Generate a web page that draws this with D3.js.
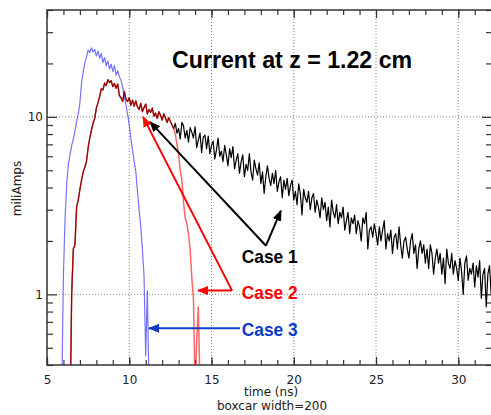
<!DOCTYPE html>
<html>
<head>
<meta charset="utf-8">
<title>Current at z = 1.22 cm</title>
<style>
    body {
        margin: 0;
        background: #fff;
        overflow: hidden;
    }
    svg {
        display: block;
    }
    .tick text, .label {
        font-family: "DejaVu Sans", sans-serif;
        font-size: 12px;
        fill: #222;
    }
    .note {
        font-family: "Liberation Sans", Arial, sans-serif;
        font-weight: bold;
    }
</style>
</head>
<body>
<script src="https://cdn.jsdelivr.net/npm/d3@7/dist/d3.min.js"></script>
<script>
    // all traces sampled every 0.1 ns
    var sampleStep = 0.1;

    // Case 1 (black), starts at 6.4 ns
    var case1Start = 6.4;
    var case1Values = [
        0.2, 1.0, 1.8, 1.9, 3.1, 3.4, 3.9, 4.4, 4.9, 5.2,            // 6.4 - 7.3
        5.6, 6.7, 7.6, 8.4, 9.2, 9.8, 11.2, 12.0, 13.0, 14.4,        // 7.4 - 8.3
        14.2, 15.5, 15.0, 16.2, 15.6, 16.0, 14.8, 15.4, 14.5, 15.3,  // 8.4 - 9.3
        13.2, 12.8, 12.2, 13.9, 12.6, 12.2, 12.8, 11.6, 12.4, 11.5,  // 9.4 - 10.3
        12.3, 11.4, 11.0, 11.9, 10.7, 11.3, 11.8, 10.4, 11.0, 10.6,  // 10.4 - 11.3
        11.2, 10.1, 10.5, 9.8, 10.7, 10.2, 9.6, 10.4, 9.9, 9.3,      // 11.4 - 12.3
        9.9, 9.4, 9.0, 8.6,                                          // 12.4 - 12.7
        9.2, 8.1, 8.6, 7.5, 9.3, 8.9, 7.6, 8.4, 7.2, 8.7,            // 12.8 - 13.7
        8.2, 7.6, 8.8, 6.7, 7.4, 8.1, 6.3, 7.7, 7.9, 6.6,            // 13.8 - 14.7
        7.8, 6.2, 6.9, 7.3, 5.8, 6.5, 7.6, 6.0, 6.4, 5.6,            // 14.8 - 15.7
        6.9, 6.1, 5.3, 6.6, 5.9, 6.8, 5.1, 5.7, 6.2, 4.8,            // 15.8 - 16.7
        5.6, 6.1, 4.6, 5.4, 5.0, 6.2, 4.9, 4.4, 5.7, 5.1,            // 16.8 - 17.7
        4.7, 5.5, 4.2, 4.9, 3.7, 4.6, 5.3, 4.5, 4.1, 4.8,            // 17.8 - 18.7
        4.2, 5.0, 3.8, 4.3, 4.6, 3.5, 4.4, 3.9, 4.5, 3.6,            // 18.8 - 19.7
        4.1, 4.4, 3.4, 3.8, 3.2, 4.2, 3.7, 2.8, 3.9, 3.5,            // 19.8 - 20.7
        3.3, 3.8, 3.0, 3.5, 3.7, 2.9, 3.4, 3.1, 2.7, 3.5,            // 20.8 - 21.7
        3.0, 3.3, 2.6, 3.1, 2.4, 3.4, 2.9, 2.7, 3.2, 2.5,            // 21.8 - 22.7
        2.9, 2.7, 3.1, 2.3, 2.6, 2.9, 2.2, 2.7, 2.5, 2.8,            // 22.8 - 23.7
        2.2, 2.6, 2.4, 2.0, 2.7, 2.5, 2.9, 1.8, 2.3, 2.4,            // 23.8 - 24.7
        2.1, 2.5, 2.2, 1.9, 2.4, 2.0, 2.3, 2.6, 1.8, 2.2,            // 24.8 - 25.7
        2.0, 2.3, 1.7, 2.1, 2.2, 1.8, 2.4, 1.9, 1.6, 2.0,            // 25.8 - 26.7
        2.1, 1.8, 1.6, 2.0, 2.2, 1.7, 1.9, 1.4, 1.8, 2.0,            // 26.8 - 27.7
        1.7, 1.9, 1.5, 1.8, 1.4, 1.9, 1.7, 1.3, 1.6, 1.8,            // 27.8 - 28.7
        1.5, 1.7, 1.3, 1.6, 1.15, 1.8, 1.5, 1.4, 1.7, 1.3,           // 28.8 - 29.7
        1.55, 1.4, 1.2, 1.6, 1.35, 1.0, 1.5, 1.65, 1.2, 1.4,         // 29.8 - 30.7
        1.3, 1.5, 1.1, 1.45, 1.25, 1.55, 0.95, 1.3, 1.4, 0.85,       // 30.8 - 31.7
        1.3, 1.45, 1.0, 1.2, 1.35, 1.1, 1.25                         // 31.8 - 32.4
    ];

    // Case 2 (red) follows case 1 up to 12.7 ns, then drops
    var case2Start = 6.4;
    var case2Tail = [8.0, 7.0, 6.2, 5.0, 4.4, 3.3, 2.7, 2.5, 2.2, 1.8, 1.25, 0.95, 0.3, 0.55, 0.85, 0.3];
    var case2Values = case1Values.slice(0, 64).concat(case2Tail);

    // Case 3 (blue), starts at 5.9 ns
    var case3Start = 5.9;
    var case3Values = [
        0.3, 1.3, 2.7, 4.2, 5.4, 6.1, 6.9, 7.5, 8.3, 9.4,            // 5.9 - 6.8
        10.4, 12.0, 15.5, 18.0, 20.0, 21.8, 23.8, 23.0, 24.5, 23.2,  // 6.9 - 7.8
        24.0, 22.0, 23.5, 21.4, 22.8, 20.2, 21.6, 19.4, 20.6, 18.6,  // 7.9 - 8.8
        19.8, 18.0, 19.5, 17.2, 18.2, 16.8, 16.0, 14.7, 13.0, 11.8,  // 8.9 - 9.8
        10.3, 9.0, 7.5, 6.5, 5.6, 4.9, 3.8, 3.0, 2.4, 1.8,           // 9.9 - 10.8
        1.25, 0.45, 1.05, 0.3                                        // 10.9 - 11.2
    ];

    var xMajorTicks = [5, 10, 15, 20, 25, 30];
    var xGridTicks = [10, 15, 20, 25, 30];
    var yMajorTicks = [1, 10];
    var yMinorTicks = [0.4, 0.5, 0.6, 0.7, 0.8, 0.9, 2, 3, 4, 5, 6, 7, 8, 9, 20, 30, 40];

    var title = "Current at z = 1.22 cm";
    var yLabel = "miliAmps";
    var xLabel = "time (ns)";
    var subLabel = "boxcar width=200";

    function toPoints(start, values) {
        return values.map(function(v, i) {
            return { t: +(start + i * sampleStep).toFixed(2), v: v };
        });
    }

    var width = 491, height = 415;
    var plotLeft = 47, plotRight = 492, plotTop = 10, plotBottom = 365;

    var svg = d3.select("body").append("svg")
        .attr("width", width)
        .attr("height", height);

    var x = d3.scaleLinear().domain([5, 32.05]).range([plotLeft, plotRight]);
    var y = d3.scaleLog().domain([0.4, 40]).range([plotBottom, plotTop]);

    // dotted grid
    svg.append("g").selectAll("line")
        .data(xGridTicks).enter().append("line")
        .attr("x1", d => x(d)).attr("x2", d => x(d))
        .attr("y1", plotTop).attr("y2", plotBottom)
        .attr("stroke", "#888").attr("stroke-width", 1)
        .attr("stroke-dasharray", "1,2");
    svg.append("g").selectAll("line")
        .data(yMajorTicks).enter().append("line")
        .attr("x1", plotLeft).attr("x2", plotRight)
        .attr("y1", d => y(d)).attr("y2", d => y(d))
        .attr("stroke", "#888").attr("stroke-width", 1)
        .attr("stroke-dasharray", "1,2");

    // ticks (inward) on all four sides
    var xMinor = d3.range(5, 33, 1);
    function addAxis(axis, tx, ty, showLabels) {
        var g = svg.append("g").attr("transform", "translate(" + tx + "," + ty + ")").call(axis);
        g.select(".domain").remove();
        g.selectAll(".tick line").attr("stroke", "#333").attr("stroke-width", 1.2);
        if (!showLabels) g.selectAll(".tick text").remove();
        return g;
    }
    addAxis(d3.axisBottom(x).tickValues(xMinor).tickSize(-5).tickFormat(""), 0, plotBottom, false);
    addAxis(d3.axisBottom(x).tickValues(xMajorTicks).tickSize(-8).tickPadding(10).tickFormat(d3.format("d")), 0, plotBottom, true);
    addAxis(d3.axisTop(x).tickValues(xMinor).tickSize(-5).tickFormat(""), 0, plotTop, false);
    addAxis(d3.axisTop(x).tickValues(xMajorTicks).tickSize(-8).tickFormat(""), 0, plotTop, false);
    addAxis(d3.axisLeft(y).tickValues(yMinorTicks).tickSize(-6).tickFormat(""), plotLeft, 0, false);
    addAxis(d3.axisLeft(y).tickValues(yMajorTicks).tickSize(-10).tickPadding(4).tickFormat(d3.format("d")), plotLeft, 0, true);
    addAxis(d3.axisRight(y).tickValues(yMinorTicks).tickSize(-6).tickFormat(""), plotRight, 0, false);
    addAxis(d3.axisRight(y).tickValues(yMajorTicks).tickSize(-10).tickFormat(""), plotRight, 0, false);

    // frame
    svg.append("rect")
        .attr("x", plotLeft).attr("y", plotTop)
        .attr("width", plotRight - plotLeft).attr("height", plotBottom - plotTop)
        .attr("fill", "none").attr("stroke", "#333").attr("stroke-width", 1.5);

    // traces
    svg.append("clipPath").attr("id", "plot")
        .append("rect")
        .attr("x", plotLeft).attr("y", plotTop)
        .attr("width", plotRight - plotLeft).attr("height", plotBottom - plotTop);

    var line = d3.line().x(d => x(d.t)).y(d => y(d.v));
    var traces = svg.append("g").attr("clip-path", "url(#plot)");

    traces.append("path")
        .attr("d", line(toPoints(case1Start, case1Values)))
        .attr("fill", "none").attr("stroke", "#000").attr("stroke-width", 1.2)
        .attr("stroke-linejoin", "round");
    traces.append("path")
        .attr("d", line(toPoints(case2Start, case2Values)))
        .attr("fill", "none").attr("stroke", "#ff0000").attr("stroke-opacity", 0.6)
        .attr("stroke-width", 1.5).attr("stroke-linejoin", "round");
    traces.append("path")
        .attr("d", line(toPoints(case3Start, case3Values)))
        .attr("fill", "none").attr("stroke", "#0000ff").attr("stroke-opacity", 0.55)
        .attr("stroke-width", 1.2).attr("stroke-linejoin", "round");

    // axis labels
    svg.append("text").attr("class", "label")
        .attr("transform", "translate(21," + ((plotTop + plotBottom) / 2 + 1) + ") rotate(-90)")
        .attr("text-anchor", "middle")
        .text(yLabel);
    svg.append("text").attr("class", "label")
        .attr("x", 271).attr("y", 396)
        .attr("text-anchor", "middle")
        .text(xLabel);
    svg.append("text").attr("class", "label")
        .attr("x", 272).attr("y", 410)
        .attr("text-anchor", "middle")
        .text(subLabel);

    // title and case annotations (placed in data units)
    svg.append("text").attr("class", "note")
        .attr("x", x(19.9)).attr("y", y(18.9))
        .attr("text-anchor", "middle")
        .attr("font-size", 24)
        .attr("textLength", 240).attr("lengthAdjust", "spacingAndGlyphs")
        .text(title);

    var defs = svg.append("defs");
    function marker(id, color) {
        defs.append("marker").attr("id", id)
            .attr("markerUnits", "userSpaceOnUse")
            .attr("markerWidth", 11).attr("markerHeight", 9)
            .attr("refX", 10).attr("refY", 4.5)
            .attr("orient", "auto")
            .append("path").attr("d", "M0,0 L11,4.5 L0,9 Z").attr("fill", color);
    }
    marker("headBlack", "#000");
    marker("headRed", "#ff0000");
    marker("headBlue", "#0a3cc8");

    var arrows = [
        { from: [18.31, 1.88], to: [11.26, 9.37], color: "#000", head: "headBlack" },
        { from: [18.31, 1.88], to: [19.22, 2.96], color: "#000", head: "headBlack" },
        { from: [16.25, 1.05], to: [10.84, 10.0], color: "#ff0000", head: "headRed" },
        { from: [16.25, 1.05], to: [14.18, 1.05], color: "#ff0000", head: "headRed" },
        { from: [16.73, 0.644], to: [11.2, 0.644], color: "#0a3cc8", head: "headBlue" }
    ];
    svg.append("g").selectAll("line")
        .data(arrows).enter().append("line")
        .attr("x1", d => x(d.from[0])).attr("y1", d => y(d.from[1]))
        .attr("x2", d => x(d.to[0])).attr("y2", d => y(d.to[1]))
        .attr("stroke", d => d.color).attr("stroke-width", 2)
        .attr("marker-end", d => "url(#" + d.head + ")");

    var notes = [
        { text: "Case 1", t: 16.84, v: 1.506, color: "#000" },
        { text: "Case 2", t: 16.84, v: 0.937, color: "#ff0000" },
        { text: "Case 3", t: 16.84, v: 0.583, color: "#0a3cc8" }
    ];
    svg.append("g").selectAll("text")
        .data(notes).enter().append("text")
        .attr("class", "note")
        .attr("x", d => x(d.t)).attr("y", d => y(d.v))
        .attr("font-size", 19)
        .attr("textLength", 56).attr("lengthAdjust", "spacingAndGlyphs")
        .attr("fill", d => d.color)
        .text(d => d.text);
</script>
</body>
</html>
